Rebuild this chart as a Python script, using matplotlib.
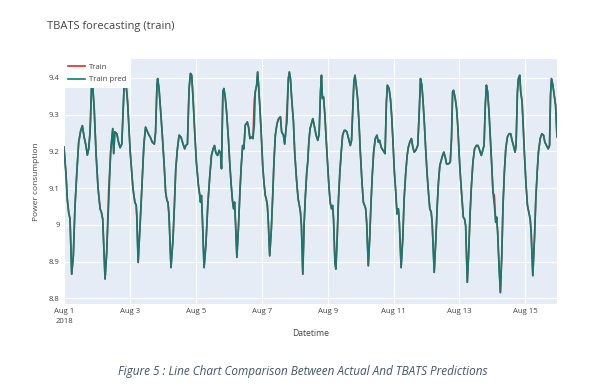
import matplotlib
matplotlib.use("Agg")
import matplotlib.pyplot as plt
import pandas as pd

plt.rcParams["font.family"] = ["Open Sans", "DejaVu Sans"]

start = pd.Timestamp("2018-08-01 00:00")

# hours since Aug 1 00:00
hours = [
    0.0, 1.5, 2.4, 3.4, 4.4, 5.6, 6.8, 8.0, 9.3, 10.7, 12.2, 13.4, 14.6, 16.0, 17.0, 18.0, 19.0, 20.0, 20.7, 22.0, 23.4,
    24.8, 26.3, 27.2, 28.2, 29.9, 31.1, 32.6, 34.0, 35.5, 36.2, 37.0, 38.5, 39.7, 40.9, 42.1, 43.8, 44.8, 46.3,
    48.2, 50.2, 51.6, 52.6, 53.0, 54.0, 55.5, 56.9, 58.2, 59.4, 60.4, 61.4, 62.8, 64.3, 65.8, 66.7, 67.7, 68.2, 69.2, 70.1, 71.6,
    73.1, 74.0, 75.0, 75.7, 76.5, 77.9, 79.4, 80.4, 81.4, 82.6, 83.8, 85.2, 86.7, 87.9, 88.7, 89.9, 91.1, 92.1, 93.0, 94.0, 95.2,
    96.4, 97.9, 98.9, 99.4, 100.1, 100.8, 102.0, 103.3, 104.7, 106.2, 107.4, 108.6, 109.6, 110.6, 111.8, 113.0, 114.0, 114.7,
    115.7, 116.4, 117.4, 118.4, 119.8,
    120.8, 121.8, 122.7, 123.5, 124.2, 124.9, 125.9, 127.1, 128.1, 129.1, 130.1, 131.0, 132.0, 133.5, 134.4, 135.4, 136.4,
    137.6, 138.6, 139.3, 140.3, 141.0, 141.7, 142.7, 143.7,
    144.7, 145.6, 146.6, 147.3, 148.1, 148.8, 149.8, 151.0, 152.0, 152.9, 153.9, 155.1, 156.3, 157.6, 158.5, 159.8, 160.7,
    161.7, 162.4, 163.4, 164.1, 164.9, 165.8, 167.1,
    168.0, 169.3, 170.5, 171.4, 172.2, 172.9, 173.9, 174.9, 175.8, 176.8, 177.5, 178.3, 179.2, 180.5, 181.2, 182.2, 183.6,
    184.8, 185.8, 186.8, 187.5, 188.2, 189.0, 190.0, 190.9,
    191.9, 192.9, 193.8, 194.8, 195.6, 196.3, 197.3, 198.0, 199.0, 199.9, 200.9, 201.9, 202.9, 204.1, 205.1, 206.0, 207.2,
    208.5, 209.4, 210.4, 211.1, 211.9, 212.8, 213.8, 214.8,
    215.8, 217.0, 218.0, 218.9, 219.7, 220.4, 221.6, 222.6, 223.5, 224.5, 225.5, 226.7, 227.9, 228.9, 229.9, 230.9, 232.3,
    233.8, 234.8, 235.5, 236.7, 237.7, 238.6, 239.6,
    240.6, 241.6, 242.5, 243.5, 244.2, 245.5, 246.7, 247.7, 248.9, 249.9, 250.8, 251.8, 253.0, 254.0, 255.0, 256.2, 257.6,
    258.6, 259.6, 260.6, 261.5, 262.5, 263.5,
    264.5, 265.4, 266.4, 267.4, 268.1, 269.6, 270.8, 271.8, 272.7, 273.7, 274.7, 275.7, 276.6, 277.6, 278.6, 280.0, 281.3,
    282.2, 283.0, 283.7, 284.9, 285.9, 286.9, 287.8,
    288.8, 289.8, 290.8, 291.7, 292.5, 293.7, 294.7, 295.6, 296.6, 297.8, 299.0, 300.3, 301.5, 302.7, 303.9, 304.9, 305.9,
    306.8, 307.6, 308.5, 309.5, 310.5, 311.5,
    312.4, 313.4, 314.4, 315.1, 315.8, 316.8, 317.8, 318.8, 319.7, 320.7, 321.7, 322.9, 324.1, 325.3, 326.3, 327.3, 328.5,
    329.2, 330.2, 330.9, 331.9, 332.6, 333.6, 334.6, 335.6,
    336.5, 337.5, 338.5, 339.5, 340.2, 341.4, 342.6, 343.6, 344.6, 345.5, 346.8, 348.0, 349.2, 350.2, 351.4, 352.6, 353.6,
    354.3, 355.0, 356.0, 357.0, 358.0, 359.0,
]

pred = [
    9.212, 9.135, 9.070, 9.035, 9.016, 8.866, 8.916, 9.050, 9.140, 9.225, 9.257, 9.270, 9.240, 9.216, 9.190, 9.207, 9.253, 9.370, 9.390, 9.316, 9.190,
    9.100, 9.044, 9.035, 9.016, 8.853, 8.925, 9.070, 9.200, 9.262, 9.194, 9.253, 9.248, 9.225, 9.210, 9.220, 9.380, 9.400, 9.335,
    9.200, 9.100, 9.062, 9.053, 9.025, 8.898, 9.007, 9.116, 9.220, 9.266, 9.257, 9.248, 9.239, 9.225, 9.220, 9.253, 9.380, 9.398, 9.371, 9.325, 9.244,
    9.153, 9.089, 9.066, 9.062, 9.025, 8.884, 8.962, 9.053, 9.153, 9.207, 9.244, 9.239, 9.220, 9.207, 9.216, 9.220, 9.371, 9.412, 9.407, 9.344, 9.253,
    9.171, 9.107, 9.080, 9.062, 9.080, 9.016, 8.884, 8.944, 9.053, 9.135, 9.189, 9.207, 9.216, 9.196, 9.189, 9.203, 9.194, 9.153,
    9.362, 9.371, 9.348, 9.307, 9.230,
    9.162, 9.107, 9.066, 9.044, 9.062, 9.007, 8.912, 8.998, 9.089, 9.162, 9.216, 9.207, 9.271, 9.280, 9.266, 9.235, 9.239,
    9.235, 9.271, 9.362, 9.380, 9.416, 9.380, 9.316, 9.244,
    9.162, 9.116, 9.080, 9.071, 9.053, 9.007, 8.916, 8.989, 9.080, 9.171, 9.244, 9.275, 9.289, 9.294, 9.253, 9.244, 9.220,
    9.262, 9.280, 9.398, 9.416, 9.398, 9.344, 9.280,
    9.198, 9.125, 9.071, 9.053, 9.035, 8.998, 8.866, 9.007, 9.080, 9.144, 9.171, 9.225, 9.262, 9.280, 9.289, 9.271, 9.244,
    9.230, 9.248, 9.362, 9.407, 9.344, 9.348, 9.298, 9.235,
    9.171, 9.107, 9.062, 9.044, 9.053, 9.016, 8.898, 8.880, 8.971, 9.071, 9.144, 9.198, 9.244, 9.257, 9.257, 9.253, 9.235,
    9.216, 9.230, 9.325, 9.389, 9.407, 9.380, 9.344, 9.280,
    9.198, 9.116, 9.062, 9.053, 9.044, 9.007, 8.889, 8.962, 9.053, 9.135, 9.198, 9.235, 9.244, 9.225, 9.230, 9.212, 9.203,
    9.194, 9.335, 9.380, 9.371, 9.344, 9.298, 9.225,
    9.144, 9.089, 9.030, 9.044, 9.007, 8.884, 8.962, 9.071, 9.144, 9.189, 9.212, 9.225, 9.235, 9.212, 9.198, 9.203, 9.216,
    9.298, 9.398, 9.380, 9.335, 9.271, 9.198,
    9.135, 9.089, 9.044, 9.035, 9.007, 8.871, 8.962, 9.053, 9.116, 9.162, 9.175, 9.189, 9.198, 9.185, 9.166, 9.166, 9.171,
    9.235, 9.362, 9.366, 9.344, 9.316, 9.262, 9.189,
    9.125, 9.071, 9.021, 9.016, 8.998, 8.844, 8.925, 9.020, 9.100, 9.171, 9.207, 9.216, 9.216, 9.203, 9.189, 9.203, 9.216,
    9.325, 9.380, 9.362, 9.307, 9.235, 9.162,
    9.089, 9.053, 9.007, 9.021, 8.980, 8.889, 8.816, 8.916, 9.053, 9.144, 9.207, 9.239, 9.248, 9.248, 9.230, 9.216, 9.198,
    9.216, 9.362, 9.398, 9.407, 9.362, 9.335, 9.253, 9.171,
    9.107, 9.053, 9.035, 9.016, 8.980, 8.862, 8.962, 9.071, 9.144, 9.198, 9.235, 9.248, 9.244, 9.225, 9.216, 9.207, 9.216,
    9.353, 9.398, 9.380, 9.353, 9.325, 9.240,
]

# spots where the red "Train" line peeks out from under the prediction
train_changes = {32.6: 9.10, 138.6: 9.34, 162.4: 9.32, 313.4: 9.08}

train = [train_changes.get(h, v) for h, v in zip(hours, pred)]
times = start + pd.to_timedelta(hours, unit="h")

y_ticks = [8.8, 8.9, 9.0, 9.1, 9.2, 9.3, 9.4]
y_labels = ["8.8", "8.9", "9", "9.1", "9.2", "9.3", "9.4"]
x_ticks = pd.date_range("2018-08-01", "2018-08-15", freq="2D")
x_labels = ["Aug 1\n2018"] + [f"Aug {d.day}" for d in x_ticks[1:]]

text_color = "#444444"

fig = plt.figure(figsize=(6.06, 3.87), dpi=100)
ax = fig.add_axes([0.1056, 0.2145, 0.8135, 0.6318])
ax.set_facecolor("#E5ECF6")

ax.plot(times, train, color="#e8281e", linewidth=1.2, label="Train")
ax.plot(times, pred, color="#0b7d73", linewidth=1.2, label="Train pred")

ax.set_xlim(times[0], times[-1])
ax.set_ylim(8.785, 9.45)
ax.set_yticks(y_ticks)
ax.set_yticklabels(y_labels)
ax.set_xticks(x_ticks)
ax.set_xticklabels(x_labels, linespacing=1.5)
ax.tick_params(length=0, labelsize=5.6, colors=text_color, pad=3)
ax.grid(color="white", linewidth=0.8)
ax.set_axisbelow(True)
for s in ax.spines.values():
    s.set_visible(False)

leg = ax.legend(loc="upper left", bbox_to_anchor=(0, 1), borderaxespad=0, fontsize=5.6,
                frameon=True, fancybox=False, framealpha=1, edgecolor="none",
                handlelength=2.1, handletextpad=0.6, labelspacing=0.6, borderpad=0.55)
for t in leg.get_texts():
    t.set_color(text_color)

fig.text(47 / 606, 1 - 27 / 387, "TBATS forecasting (train)", ha="left", va="center",
         fontsize=8, color=text_color)
fig.text(37 / 606, 1 - 182 / 387, "Power consumption", rotation=90, ha="center", va="center",
         fontsize=6, color=text_color)
fig.text(310.5 / 606, 1 - 333 / 387, "Datetime", ha="center", va="center",
         fontsize=6.2, color=text_color)
fig.text(0.5, 1 - 371 / 387, "Figure 5 : Line Chart Comparison Between Actual And TBATS Predictions",
         ha="center", va="center", fontsize=8.5, style="italic", color="#44546A")

fig.savefig("out.png", dpi=100)
plt.close(fig)
